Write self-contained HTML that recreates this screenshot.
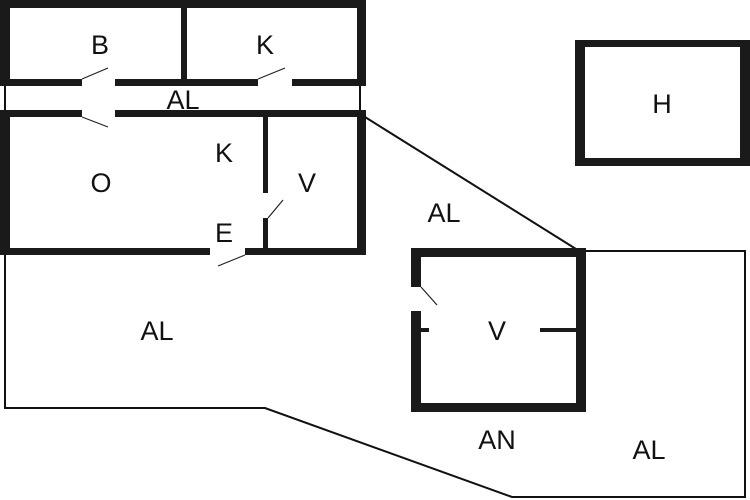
<!DOCTYPE html>
<html><head><meta charset="utf-8"><style>
html,body{margin:0;padding:0;background:#fff}
svg{display:block}
text{font-family:"Liberation Sans",sans-serif;font-size:27px;fill:#111;text-anchor:middle;dominant-baseline:central}
</style></head><body>
<svg width="750" height="500" viewBox="0 0 750 500" xmlns="http://www.w3.org/2000/svg">
<rect width="750" height="500" fill="#fff"/>
<g fill="none" stroke="#111" stroke-width="2">
<polyline points="5,86 5,110"/>
<polyline points="360,86 360,110"/>
<polyline points="5,255 5,408 265,408 512,497 745,497 745,251 585,251"/>
<line x1="365" y1="117" x2="576" y2="249"/>
</g>
<g fill="#1a1a1a">
<rect x="0" y="0" width="366" height="8"/>
<rect x="0" y="0" width="10" height="86"/>
<rect x="357" y="0" width="9" height="86"/>
<rect x="181" y="0" width="6" height="86"/>
<rect x="0" y="79" width="82" height="7"/>
<rect x="115" y="79" width="143" height="7"/>
<rect x="292" y="79" width="74" height="7"/>
<rect x="0" y="110" width="82" height="7"/>
<rect x="115" y="110" width="251" height="7"/>
<rect x="0" y="110" width="10" height="145"/>
<rect x="357" y="110" width="9" height="145"/>
<rect x="0" y="248" width="210" height="7"/>
<rect x="245" y="248" width="121" height="7"/>
<rect x="263" y="117" width="5" height="76"/>
<rect x="263" y="218" width="5" height="32"/>
<rect x="411" y="248" width="175" height="9"/>
<rect x="411" y="403" width="175" height="9"/>
<rect x="411" y="248" width="10" height="39"/>
<rect x="411" y="311" width="10" height="101"/>
<rect x="576" y="248" width="10" height="164"/>
<rect x="421" y="328" width="8" height="4"/>
<rect x="540" y="328" width="36" height="4"/>
<rect x="575" y="40" width="175" height="7"/>
<rect x="575" y="158" width="175" height="8"/>
<rect x="575" y="40" width="10" height="126"/>
<rect x="740" y="40" width="10" height="126"/>
</g>
<g stroke="#222" stroke-width="1.2" fill="none">
<line x1="82" y1="79" x2="108" y2="68"/>
<line x1="258" y1="79" x2="285" y2="68"/>
<line x1="82" y1="117" x2="108" y2="127"/>
<line x1="268" y1="218" x2="283" y2="200"/>
<line x1="245" y1="255" x2="218" y2="266"/>
<line x1="421" y1="287" x2="437" y2="305"/>
</g>
<text x="100" y="45">B</text>
<text x="265" y="45">K</text>
<text x="183" y="100">AL</text>
<text x="224" y="153">K</text>
<text x="101" y="183">O</text>
<text x="307" y="183">V</text>
<text x="224" y="233">E</text>
<text x="444" y="213">AL</text>
<text x="157" y="331">AL</text>
<text x="497" y="331">V</text>
<text x="497" y="440">AN</text>
<text x="649" y="450">AL</text>
<text x="662" y="104">H</text>
</svg>
</body></html>
